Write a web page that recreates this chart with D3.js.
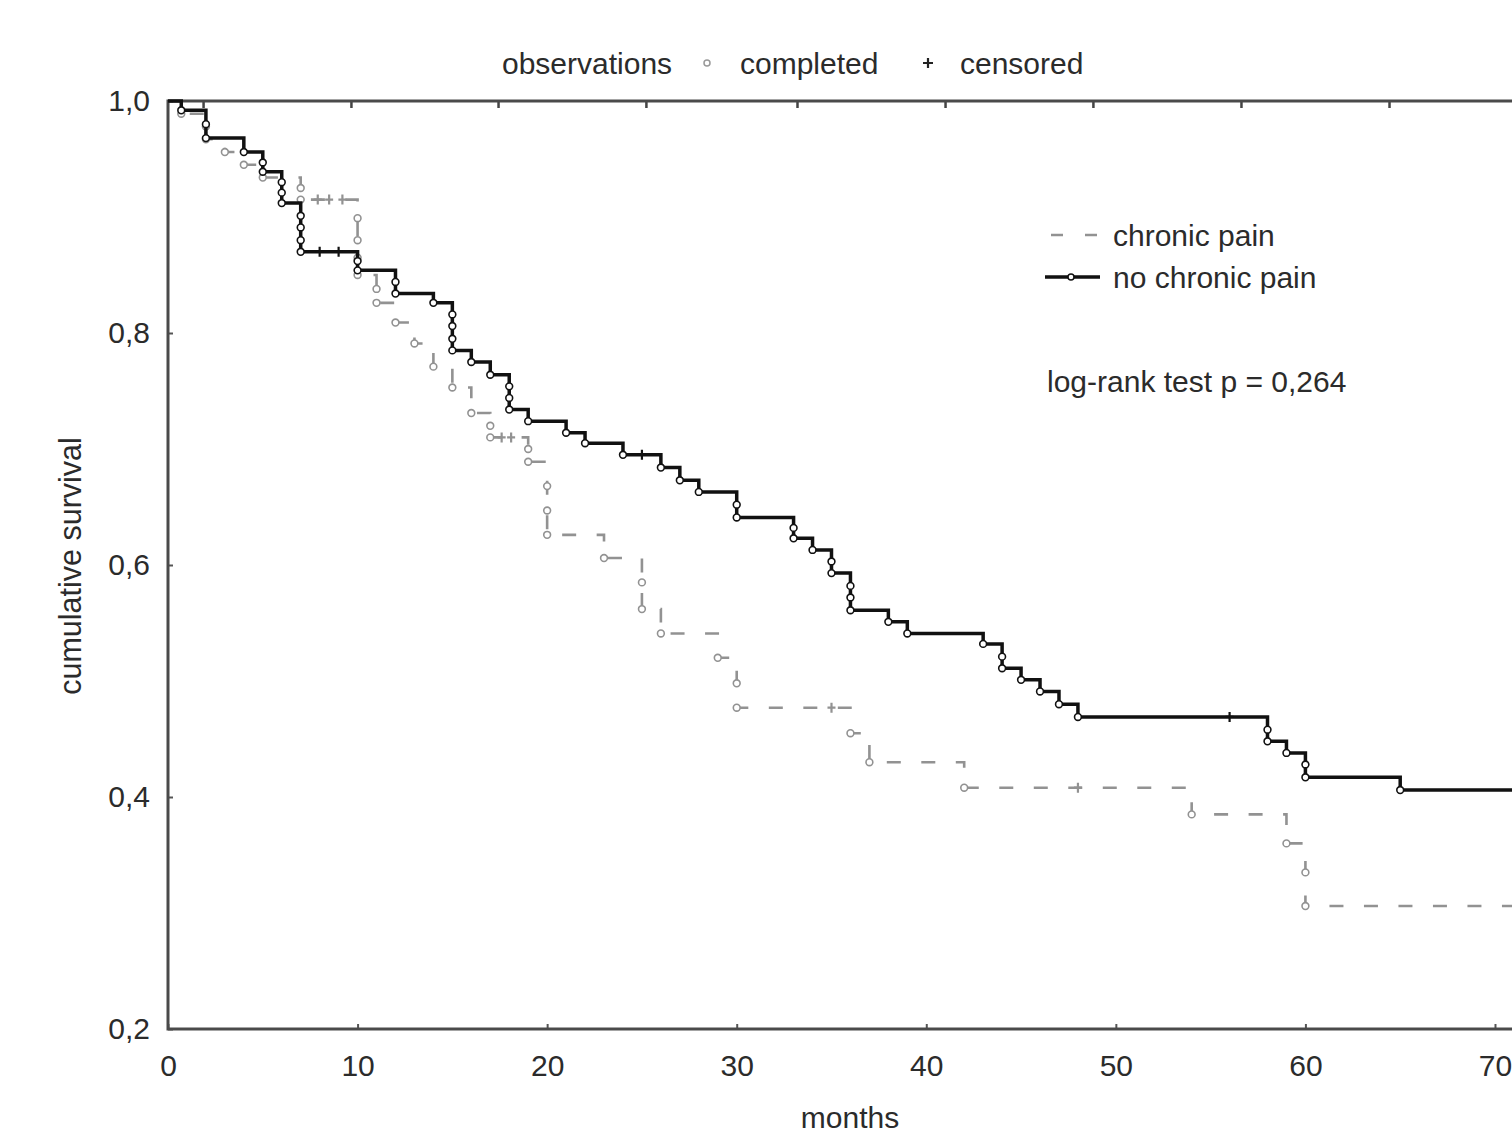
<!DOCTYPE html>
<html>
<head>
<meta charset="utf-8">
<script src="https://cdn.jsdelivr.net/npm/d3@7"></script>
<style>
  body{margin:0;background:#fff;}
  svg text{font-family:"Liberation Sans",Arial,sans-serif;fill:#2b2b2b;}
</style>
</head>
<body>
<svg id="myGraph"></svg>
<script>
// no chronic pain - one entry per completed observation (time in months, survival after it)
var noPainTime=[0.7,2,2,4,5,5,6,6,6,7,7,7,7,10,10,12,12,14,15,15,15,15,16,17,18,18,18,19,21,22,24,26,27,28,30,30,33,33,34,35,35,36,36,36,38,39,43,44,44,45,46,47,48,58,58,59,60,60,65];
var noPainSurv=[0.992,0.980,0.968,0.956,0.947,0.939,0.930,0.921,0.912,0.901,0.891,0.880,0.870,0.862,0.854,0.844,0.834,0.826,0.816,0.806,0.795,0.785,0.775,0.764,0.754,0.744,0.734,0.724,0.714,0.705,0.695,0.684,0.673,0.663,0.652,0.641,0.632,0.623,0.613,0.603,0.593,0.582,0.572,0.561,0.551,0.541,0.532,0.521,0.511,0.501,0.491,0.480,0.469,0.458,0.448,0.438,0.428,0.417,0.406];
var noPainCens=[8,9,25,56];

// chronic pain
var painTime=[0.7,2,2,3,4,5,7,7,10,10,10,10,11,11,12,13,14,15,16,17,17,19,19,20,20,20,23,25,25,26,29,30,30,36,37,42,54,59,60,60];
var painSurv=[0.989,0.978,0.967,0.956,0.945,0.934,0.925,0.915,0.899,0.880,0.865,0.850,0.838,0.826,0.809,0.791,0.771,0.753,0.731,0.720,0.710,0.700,0.689,0.668,0.647,0.626,0.606,0.585,0.562,0.541,0.520,0.498,0.477,0.455,0.430,0.408,0.385,0.360,0.335,0.306];
var painCens=[7.9,8.5,9.2,17.6,18.1,35,48];

var xTicks=[0,10,20,30,40,50,60,70];
var yTicks=[0.2,0.4,0.6,0.8,1.0];
var topTickMonths=[1.85,9.65,17.41,25.21,33.18,40.99,48.79,56.6,64.41];
var xMax=72;

var W=1512,H=1135;
var plotL=168,plotT=101,plotB=1029;

var svg=d3.select("#myGraph").attr("width",W).attr("height",H);

var x=d3.scaleLinear().domain([0,xMax]).range([plotL,plotL+xMax*18.957]);
var y=d3.scaleLinear().domain([0.2,1.0]).range([plotB,plotT]);

var comma=function(v){return d3.format(".1f")(v).replace(".",",");};

// axes (ticks inward)
svg.append("g")
  .attr("transform","translate("+plotL+",0)")
  .call(d3.axisLeft(y).tickValues(yTicks).tickSize(-5).tickPadding(18).tickFormat(comma))
  .call(function(g){
    g.select(".domain").remove();
    g.selectAll("line").attr("stroke","#555").attr("stroke-width",2);
    g.selectAll("text").attr("font-size",30).attr("fill","#2b2b2b");
  });

svg.append("g")
  .attr("transform","translate(0,"+plotB+")")
  .call(d3.axisBottom(x).tickValues(xTicks).tickSize(-5).tickPadding(26))
  .call(function(g){
    g.select(".domain").remove();
    g.selectAll("line").attr("stroke","#555").attr("stroke-width",2);
    g.selectAll("text").attr("font-size",30).attr("fill","#2b2b2b");
  });

svg.append("g")
  .attr("transform","translate(0,"+plotT+")")
  .call(d3.axisTop(x).tickValues(topTickMonths).tickSize(-7).tickFormat(""))
  .call(function(g){
    g.select(".domain").remove();
    g.selectAll("line").attr("stroke","#444").attr("stroke-width",2.5);
  });

// frame
svg.append("rect")
  .attr("x",plotL).attr("y",plotT)
  .attr("width",x(xMax)-plotL).attr("height",plotB-plotT)
  .attr("fill","none").attr("stroke","#4a4a4a").attr("stroke-width",3);

function stepPoints(times,surv){
  var pts=[[0,1]];
  for(var i=0;i<times.length;i++){pts.push([times[i],surv[i]]);}
  pts.push([xMax,surv[surv.length-1]]);
  return pts;
}
function survAt(times,surv,t){
  var s=1;
  for(var i=0;i<times.length;i++){ if(times[i]<=t) s=surv[i]; }
  return s;
}

var line=d3.line().x(function(d){return x(d[0]);}).y(function(d){return y(d[1]);}).curve(d3.curveStepAfter);

function drawCurve(times,surv,cens,color,width,dash){
  var g=svg.append("g");
  g.append("path")
    .datum(stepPoints(times,surv))
    .attr("d",line)
    .attr("fill","none")
    .attr("stroke",color)
    .attr("stroke-width",width)
    .attr("stroke-dasharray",dash);
  g.selectAll("circle")
    .data(times)
    .enter()
    .append("circle")
    .attr("cx",function(d){return x(d);})
    .attr("cy",function(d,i){return y(surv[i]);})
    .attr("r",3.4)
    .attr("fill","#fff")
    .attr("stroke",color)
    .attr("stroke-width",1.6);
  g.selectAll("path.cens")
    .data(cens)
    .enter()
    .append("path")
    .attr("class","cens")
    .attr("d",function(d){
      var cx=x(d),cy=y(survAt(times,surv,d));
      return "M"+cx+","+(cy-5)+"V"+(cy+5)+"M"+(cx-4)+","+cy+"H"+(cx+4);
    })
    .attr("stroke",color)
    .attr("stroke-width",2.2);
}

drawCurve(painTime,painSurv,painCens,"#929292",2.6,"14,20.5");
drawCurve(noPainTime,noPainSurv,noPainCens,"#111",3.5,null);

// axis titles
svg.append("text").attr("x",850).attr("y",1128).attr("text-anchor","middle").attr("font-size",30).text("months");
svg.append("text").attr("transform","translate(81,566) rotate(-90)").attr("text-anchor","middle").attr("font-size",30.5).text("cumulative survival");

// top legend
svg.append("text").attr("x",502).attr("y",74).attr("font-size",30).text("observations");
svg.append("circle").attr("cx",707).attr("cy",63).attr("r",3).attr("fill","#fff").attr("stroke","#999").attr("stroke-width",1.5);
svg.append("text").attr("x",740).attr("y",74).attr("font-size",30).text("completed");
svg.append("path").attr("d","M928,58V68M923,63H933").attr("stroke","#222").attr("stroke-width",2.2);
svg.append("text").attr("x",960).attr("y",74).attr("font-size",30).text("censored");

// curve legend
svg.append("line").attr("x1",1051).attr("x2",1100).attr("y1",235).attr("y2",235)
  .attr("stroke","#929292").attr("stroke-width",2.6).attr("stroke-dasharray","12,22");
svg.append("text").attr("x",1113).attr("y",246).attr("font-size",30).text("chronic pain");
svg.append("line").attr("x1",1045).attr("x2",1100).attr("y1",277).attr("y2",277)
  .attr("stroke","#111").attr("stroke-width",3.5);
svg.append("circle").attr("cx",1071).attr("cy",277).attr("r",3).attr("fill","#fff").attr("stroke","#111").attr("stroke-width",1.5);
svg.append("text").attr("x",1113).attr("y",288).attr("font-size",30).text("no chronic pain");

svg.append("text").attr("x",1047).attr("y",392).attr("font-size",30).text("log-rank test p = 0,264");
</script>
</body>
</html>
